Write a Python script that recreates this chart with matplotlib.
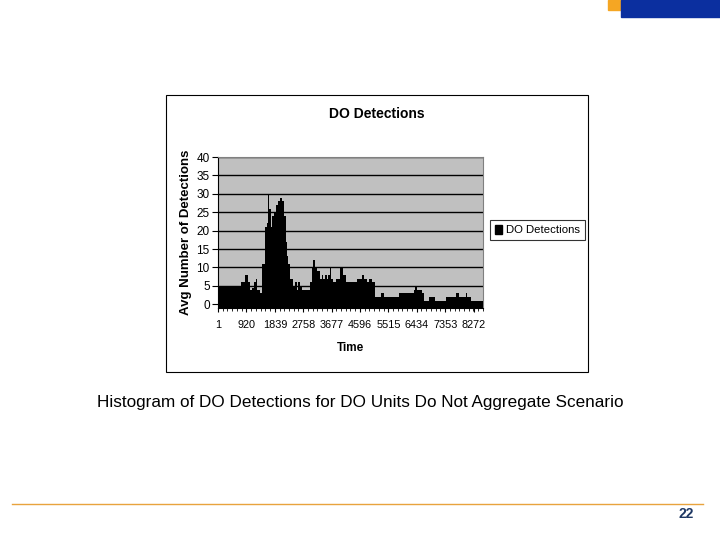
import matplotlib
matplotlib.use("Agg")
import matplotlib.pyplot as plt
from matplotlib.patches import Rectangle, Patch
from matplotlib.lines import Line2D

plt.rcParams['font.family'] = ['Liberation Sans', 'DejaVu Sans']

# segment edges along the time axis and the detection level in each segment
edges = [0, 758, 866, 975, 1028, 1104, 1169, 1223, 1256, 1353, 1408, 1515, 1570,
         1624, 1656, 1711, 1754, 1808, 1873, 1948, 2003, 2057, 2122, 2187, 2229,
         2273, 2328, 2413, 2490, 2544, 2598, 2652, 2706, 2977, 3031, 3085, 3139,
         3194, 3301, 3356, 3410, 3464, 3518, 3572, 3626, 3659, 3734, 3811, 3951,
         4059, 4136, 4492, 4654, 4709, 4817, 4893, 4979, 5087, 5282, 5358, 5845,
         6332, 6387, 6440, 6603, 6657, 6819, 7035, 7361, 7686, 7793, 8011, 8064,
         8173, 8573]
values = [5, 6, 8, 6, 4, 4.5, 6, 7, 4, 3, 11, 21,
          22, 30, 26, 21, 24, 25, 27, 28, 29, 28, 24, 17,
          13, 11, 7, 5, 6, 4, 6, 5, 4, 6, 10, 12,
          10, 9, 7, 8, 7, 8, 7, 8, 10, 7, 6, 7,
          10, 8, 6, 7, 8, 7, 6, 7, 6, 2, 3, 2,
          3, 4, 5, 4, 3, 1, 2, 1, 2, 3, 2, 3,
          2, 1]
tick_pos = [1, 920, 1839, 2758, 3677, 4596, 5515, 6434, 7353, 8272]
tick_labels = [str(t) for t in tick_pos]
y_ticks = [0, 5, 10, 15, 20, 25, 30, 35, 40]

W, H = 720, 540
fig = plt.figure(figsize=(7.2, 5.4), dpi=100)

def box(x0, y0, x1, y1):
    # pixel box -> figure fraction rect
    return [x0 / W, 1 - y1 / H, (x1 - x0) / W, (y1 - y0) / H]

# slide decorations
fig.patches.append(Rectangle((608 / W, 1 - 10 / H), 13 / W, 10 / H,
                             transform=fig.transFigure, color='#F5A623', zorder=0))
fig.patches.append(Rectangle((621 / W, 1 - 17 / H), 99 / W, 17 / H,
                             transform=fig.transFigure, color='#0B2F9F', zorder=0))
fig.lines.append(Line2D([12 / W, 703 / W], [1 - 504 / H, 1 - 504 / H],
                        transform=fig.transFigure, color='#E8A33D', lw=1))
fig.text(694 / W, 1 - 514 / H, '22', ha='right', va='center', fontsize=10,
         fontweight='bold', color='#1F3864')
fig.text(360 / W, 1 - 402 / H,
         'Histogram of DO Detections for DO Units Do Not Aggregate Scenario',
         ha='center', va='center', fontsize=12.3)

# chart frame
fig.patches.append(Rectangle((166 / W, 1 - 372 / H), 422 / W, 277 / H,
                             transform=fig.transFigure, facecolor='white',
                             edgecolor='black', lw=0.8, zorder=-1))
fig.text(377 / W, 1 - 114 / H, 'DO Detections', ha='center', va='center',
         fontsize=10, fontweight='bold')

ax = fig.add_axes(box(218, 157, 483, 308), zorder=2)
ax.set_facecolor('#C0C0C0')
ax.stairs(values, edges, baseline=-1, fill=True, color='black', zorder=3)
ax.set_xlim(0, 8573)
ax.set_ylim(-1, 40)
ax.set_yticks(y_ticks)
ax.yaxis.grid(True, color='black', lw=1)
ax.set_axisbelow(True)
ax.set_xticks(tick_pos)
ax.set_xticklabels(tick_labels)
ax.set_xticks(range(1, 8573, 153), minor=True)
ax.tick_params(axis='y', labelsize=8.5, length=4, pad=2, direction='out')
ax.tick_params(axis='x', which='major', labelsize=7.8, length=3, pad=6)
ax.tick_params(axis='x', which='minor', length=2)
for s in ['top', 'right']:
    ax.spines[s].set_color('#808080')
ax.spines['left'].set_color('black')
ax.spines['bottom'].set_color('black')

ax.set_ylabel('Avg Number of Detections', fontsize=9.5, fontweight='bold')
ax.yaxis.set_label_coords(-0.098, 0.5)
ax.set_xlabel('Time', fontsize=8.5, fontweight='bold')
ax.xaxis.set_label_coords(0.5, -0.225)

leg = ax.legend(handles=[Patch(color='black', label='DO Detections')],
                loc='center', bbox_to_anchor=(537.5 / W, 1 - 230 / H),
                bbox_transform=fig.transFigure, fontsize=8.2, frameon=True,
                fancybox=False, handlelength=0.6, handleheight=0.9,
                handletextpad=0.3, borderpad=0.45, borderaxespad=0)
leg.get_frame().set_edgecolor('black')
leg.get_frame().set_linewidth(0.8)

fig.savefig('out.png', dpi=100)
